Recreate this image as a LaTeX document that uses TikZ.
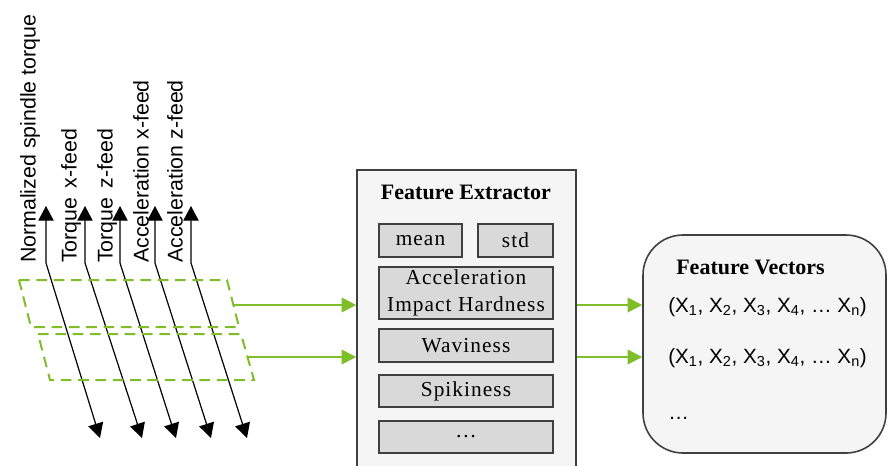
\documentclass[tikz,border=0pt]{standalone}
\usepackage{fontspec}
\setmainfont{Liberation Serif}
\setsansfont{Liberation Sans}
\usetikzlibrary{arrows.meta,positioning}
\definecolor{leafgreen}{RGB}{126,190,40}
\definecolor{boxline}{RGB}{64,64,64}
\definecolor{panelfill}{RGB}{245,245,245}
\definecolor{cellfill}{RGB}{217,217,217}
\tikzset{
  panel/.style={draw=boxline,line width=1.2pt,fill=panelfill,inner sep=0pt},
  cell/.style={draw=boxline,line width=0.9pt,fill=cellfill,inner sep=0pt,minimum height=24.75pt,font=\addfontfeature{LetterSpace=5}\fontsize{16}{20}\selectfont},
  window/.style={draw=leafgreen,line width=1.5pt,dash pattern=on 8pt off 5pt},
  feed/.style={draw=leafgreen,line width=1.5pt,-{Triangle[length=11pt,width=11pt]}},
  signal/.style={line width=0.9pt,{Triangle[length=11pt,width=11.5pt]}-{Triangle[length=11pt,width=11.5pt]}},
  chan/.style={rotate=90,anchor=west,inner sep=0pt,font=\sffamily\fontsize{16}{18}\selectfont},
  vec/.style={anchor=west,inner sep=0pt,font=\sffamily\fontsize{15.5}{17}\selectfont},
  heading/.style={inner sep=0pt,font=\bfseries\fontsize{16.5}{18}\selectfont}
}
\begin{document}
\begin{tikzpicture}[x=0.75pt,y=-0.75pt]
    \clip (0,0) rectangle (887,465);
    \foreach \i/\xa/\xb in {1/46/100,2/85/142,3/120/176,4/155/211,5/191/247}{
        \coordinate (top\i) at (\xa,206);
        \coordinate (bend\i) at (\xa,263);
        \coordinate (bot\i) at (\xb,438);
        \draw[signal] (top\i)--(bend\i)--(bot\i);
    }
    \node[chan] (lab1) at (30,263) {Normalized spindle torque};
    \node[chan] (lab2) at (71,263) {Torque\ \,x-feed};
    \node[chan] (lab3) at (107,263) {Torque\ \,z-feed};
    \node[chan] (lab4) at (141,263) {Acceleration x-feed};
    \node[chan] (lab5) at (175,263) {Acceleration z-feed};
    \draw[window] (19,280)--(227,280)--(239,327)--(31,327)--cycle;
    \draw[window] (38,334)--(241,334)--(254,380)--(50,380)--cycle;
    \coordinate (w1) at (233.4,305);
    \coordinate (w2) at (247.5,357);

    \node[panel,minimum width=164.25pt,minimum height=225pt] (extractor) at (466.5,320) {};
    \node[heading] (extitle) at (466,192) {Feature Extractor};
    \node[cell,minimum width=62.25pt] (mean) at (420.5,240.5) {mean};
    \node[cell,minimum width=56.25pt] (std) at (515.5,240.5) {std};
    \node[cell,minimum width=130.5pt,minimum height=39pt,align=center] (aih) at (466,293) {Acceleration\\Impact Hardness};
    \node[cell,minimum width=130.5pt] (wav) at (466,345.5) {Waviness};
    \node[cell,minimum width=130.5pt,minimum height=24pt] (spk) at (466,391) {Spikiness};
    \node[cell,minimum width=130.5pt,minimum height=24pt] (more) at (466,437) {\dots};

    \node[panel,rounded corners=30pt,minimum width=182.25pt,minimum height=163.5pt] (vectors) at (764.5,344) {};
    \node[heading] (vectitle) at (750.5,267) {Feature Vectors};
    \node[vec] (vec1) at (668,307) {(X\textsubscript{1}, X\textsubscript{2}, X\textsubscript{3}, X\textsubscript{4}, … X\textsubscript{n})};
    \node[vec] (vec2) at (668,358) {(X\textsubscript{1}, X\textsubscript{2}, X\textsubscript{3}, X\textsubscript{4}, … X\textsubscript{n})};
    \node[vec] (vecmore) at (668,418) {…};

    \draw[feed] (w1)--(w1 -| extractor.west);
    \draw[feed] (w2)--(w2 -| extractor.west);
    \draw[feed] (w1 -| extractor.east)--(w1 -| vectors.west);
    \draw[feed] (w2 -| extractor.east)--(w2 -| vectors.west);
\end{tikzpicture}
\end{document}
